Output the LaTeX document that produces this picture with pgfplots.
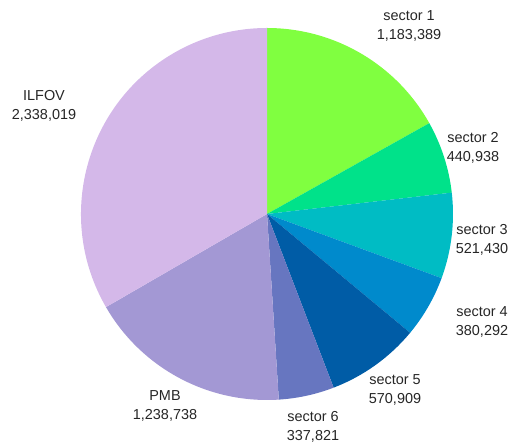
\documentclass[border=0pt]{standalone}
\usepackage{fontspec}
\setmainfont{Liberation Sans}
\usepackage{pgfplots}
\usepackage{pgfplotstable}
\pgfplotsset{compat=1.18}

\definecolor{pc0}{RGB}{128,255,64}
\definecolor{pc1}{RGB}{0,226,138}
\definecolor{pc2}{RGB}{0,188,196}
\definecolor{pc3}{RGB}{0,138,204}
\definecolor{pc4}{RGB}{0,92,166}
\definecolor{pc5}{RGB}{103,118,192}
\definecolor{pc6}{RGB}{163,152,212}
\definecolor{pc7}{RGB}{212,184,233}

\pgfplotstableread{
name value
{sector 1} 1183389
{sector 2} 440938
{sector 3} 521430
{sector 4} 380292
{sector 5} 570909
{sector 6} 337821
PMB 1238738
ILFOV 2338019
}\piedata

\begin{document}
\begin{tikzpicture}
% slice angles, clockwise from 12 o'clock
\pgfkeys{/pgf/fpu=true,/pgf/fpu/output format=fixed}
\gdef\total{0}
\foreach \i in {0,...,7}{
  \pgfplotstablegetelem{\i}{value}\of\piedata
  \pgfmathparse{\total+\pgfplotsretval}\xdef\total{\pgfmathresult}
}
\gdef\cum{0}
\foreach \i in {0,...,7}{
  \pgfplotstablegetelem{\i}{value}\of\piedata
  \pgfmathparse{90-360*\cum/\total}\expandafter\xdef\csname sa\i\endcsname{\pgfmathresult}
  \pgfmathparse{\cum+\pgfplotsretval}\xdef\cum{\pgfmathresult}
  \pgfmathparse{90-360*\cum/\total}\expandafter\xdef\csname ea\i\endcsname{\pgfmathresult}
}
\pgfkeys{/pgf/fpu=false}
\begin{axis}[scale only axis, width=515bp, height=446bp,
  xmin=0, xmax=515, ymin=0, ymax=446, hide axis, clip=false]
% keep the whole canvas as bounding box
\path (axis cs:0,0) rectangle (axis cs:515,446);
\pgfplotsinvokeforeach{0,...,7}{
  \fill[pc#1] (axis cs:267,232) -- ++(\csname sa#1\endcsname:186bp)
    arc[start angle=\csname sa#1\endcsname, end angle=\csname ea#1\endcsname, radius=186bp] -- cycle;
}
\tikzset{lab/.style={align=center, inner sep=0pt, text=black!85,
  font=\fontsize{14.5pt}{19.5pt}\selectfont}}
\node[lab] at (axis cs:409,420) {sector 1\\1,183,389};
\node[lab] at (axis cs:473,298) {sector 2\\440,938};
\node[lab] at (axis cs:482,206) {sector 3\\521,430};
\node[lab] at (axis cs:482,124) {sector 4\\380,292};
\node[lab] at (axis cs:395,56) {sector 5\\570,909};
\node[lab] at (axis cs:313,19) {sector 6\\337,821};
\node[lab] at (axis cs:165,40) {PMB\\1,238,738};
\node[lab] at (axis cs:44,340) {ILFOV\\2,338,019};
\end{axis}
\end{tikzpicture}
\end{document}
